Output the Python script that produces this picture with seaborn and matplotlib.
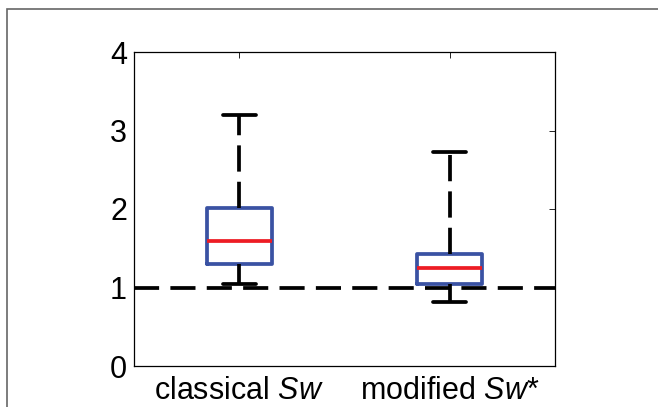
import pandas as pd
import matplotlib
matplotlib.use("Agg")
import matplotlib.pyplot as plt
import seaborn as sns
from matplotlib.patches import Rectangle

# Resumen de cinco numeros (min, Q1, mediana, Q3, max)
labels = ["classical $\\mathit{Sw}$", "modified $\\mathit{Sw}$*"]
classical = [1.04, 1.30, 1.59, 2.01, 3.20]
modified = [0.82, 1.05, 1.25, 1.43, 2.72]
ref_level = 1.0
yticks = [0, 1, 2, 3, 4]

df = pd.DataFrame({
    "grupo": [labels[0]] * len(classical) + [labels[1]] * len(modified),
    "valor": classical + modified,
})

sns.set_style("white")
plt.rcParams["font.family"] = ["Liberation Sans", "DejaVu Sans"]
plt.rcParams["mathtext.fontset"] = "custom"
plt.rcParams["mathtext.it"] = "Liberation Sans:italic"
plt.rcParams["mathtext.rm"] = "Liberation Sans"

blue = "#3a52a3"
red = "#ed1c24"
lw = 2.7

fig = plt.figure(figsize=(6.58, 4.07), dpi=100)
ax = fig.add_axes([134 / 658, 1 - 366 / 407, 421 / 658, 314 / 407])

sns.boxplot(
    data=df, x="grupo", y="valor", ax=ax, width=0.31, whis=(0, 100),
    fill=False, linewidth=lw,
    boxprops=dict(color=blue, linewidth=lw),
    medianprops=dict(color=red, linewidth=lw),
    whiskerprops=dict(color="black", linewidth=lw, linestyle=(0, (7, 2.7))),
    capprops=dict(color="black", linewidth=lw),
)

# Linea de referencia
ax.axhline(ref_level, color="black", linewidth=lw, linestyle=(0, (6.7, 3)), zorder=5)

ax.set_ylim(0, 4)
ax.set_yticks(yticks)
ax.set_xlim(-0.5, 1.5)
ax.set_xlabel("")
ax.set_ylabel("")
for s in ax.spines.values():
    s.set_color("black")
    s.set_linewidth(0.9)
    s.set_visible(True)
ax.tick_params(direction="in", top=True, right=True, length=4, width=0.7,
               labelsize=22, colors="#222222", labelcolor="black")
ax.tick_params(axis="x", pad=7)
ax.tick_params(axis="y", pad=5)

# Marco exterior de la figura
fig.patches.append(Rectangle((7 / 658, -0.2), 1.2, 1 - 9 / 407 + 0.2,
                             transform=fig.transFigure, fill=False,
                             edgecolor="#666666", linewidth=1.2))

fig.savefig("out.png", dpi=100)
